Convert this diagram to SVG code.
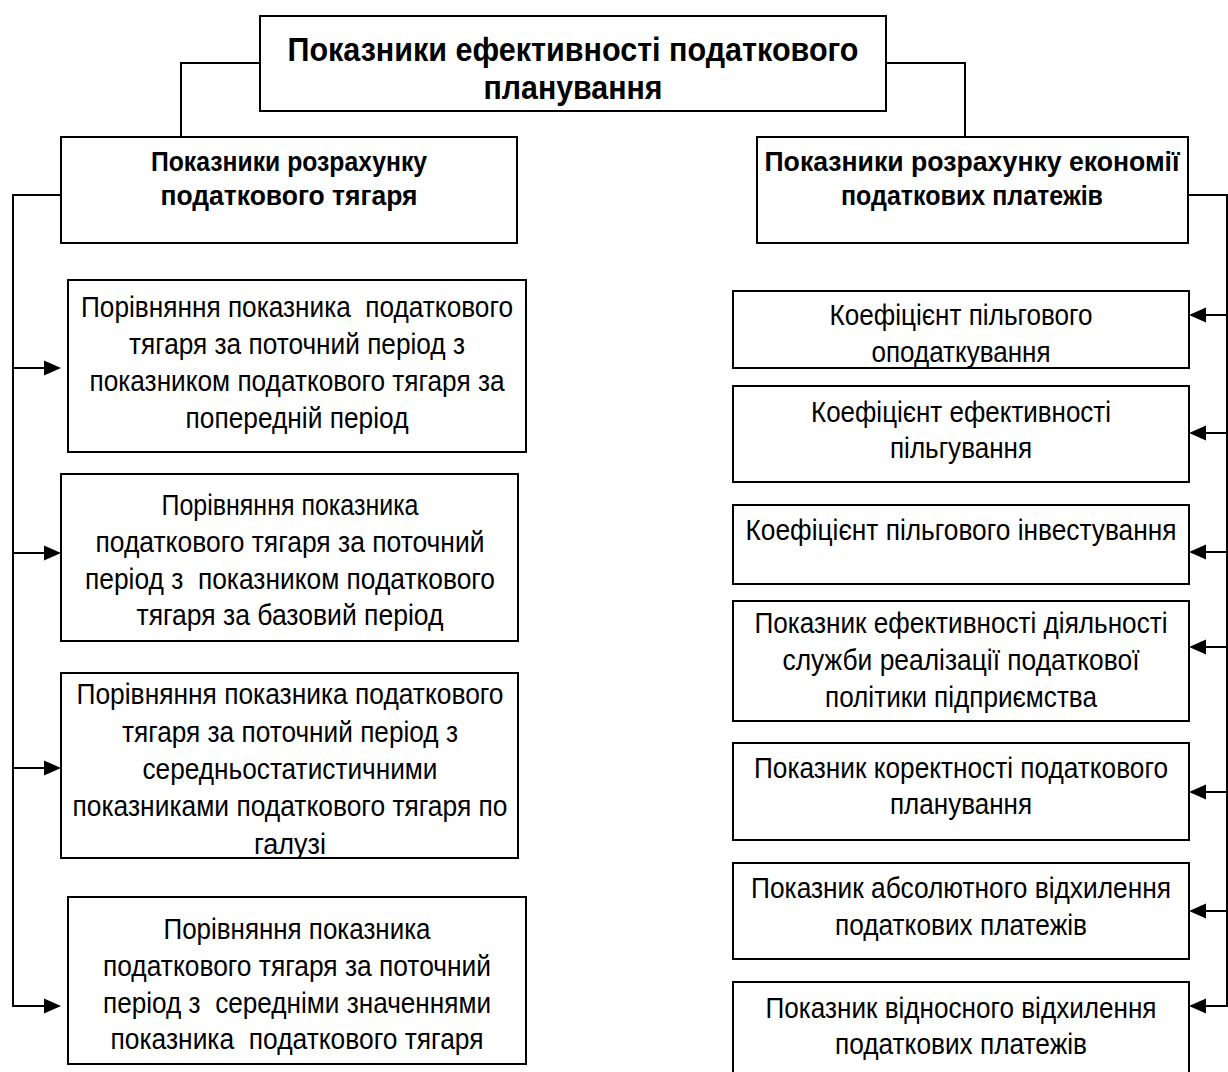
<svg xmlns="http://www.w3.org/2000/svg" xmlns:xlink="http://www.w3.org/1999/xlink" width="1228" height="1072" viewBox="0 0 1228 1072">
<style>
.box{fill:#fff;stroke:#000;stroke-width:2}
.t{font-family:"Liberation Sans",Arial,sans-serif;font-size:29.5px;fill:#000;text-anchor:middle;white-space:pre}
.h{font-family:"Liberation Sans",Arial,sans-serif;font-size:28px;font-weight:bold;fill:#000;text-anchor:middle}
.ti{font-family:"Liberation Sans",Arial,sans-serif;font-size:33px;font-weight:bold;fill:#000;text-anchor:middle}
.ln{fill:none;stroke:#000;stroke-width:2}
.hd{fill:#000;stroke:none}
</style>
<defs>
<path id="ahR" d="M-17,-7.5 L0,0 L-17,7.5 Z"/>
<path id="ahL" d="M17,-7.5 L0,0 L17,7.5 Z"/>
<clipPath id="cL3"><rect x="61" y="673" width="457" height="185"/></clipPath>
<clipPath id="cR1"><rect x="733" y="291" width="456" height="77"/></clipPath>
</defs>
<g id="connectors">
<path class="ln" d="M260,63 H181 V137"/>
<path class="ln" d="M886,63 H965 V137"/>
<path class="ln" d="M61,195 H13 V1007"/>
<path class="ln" d="M1188,195 H1227 V1007"/>
<path class="ln" d="M13,368 H50 M13,553 H50 M13,768 H50 M13,1006 H50"/>
<path class="ln" d="M1227,315 H1200 M1227,433 H1200 M1227,552 H1200 M1227,647 H1200 M1227,792 H1200 M1227,911 H1200 M1227,1006 H1200"/>
<use class="hd" xlink:href="#ahR" href="#ahR" x="61" y="368"/>
<use class="hd" xlink:href="#ahR" href="#ahR" x="61" y="553"/>
<use class="hd" xlink:href="#ahR" href="#ahR" x="61" y="768"/>
<use class="hd" xlink:href="#ahR" href="#ahR" x="61" y="1006"/>
<use class="hd" xlink:href="#ahL" href="#ahL" x="1189" y="315"/>
<use class="hd" xlink:href="#ahL" href="#ahL" x="1189" y="433"/>
<use class="hd" xlink:href="#ahL" href="#ahL" x="1189" y="552"/>
<use class="hd" xlink:href="#ahL" href="#ahL" x="1189" y="647"/>
<use class="hd" xlink:href="#ahL" href="#ahL" x="1189" y="792"/>
<use class="hd" xlink:href="#ahL" href="#ahL" x="1189" y="911"/>
<use class="hd" xlink:href="#ahL" href="#ahL" x="1189" y="1006"/>
</g>
<g id="title">
<rect class="box" x="260" y="16" width="626" height="95"/>
<text class="ti" x="573" y="61" textLength="571" lengthAdjust="spacingAndGlyphs">Показники ефективності податкового</text>
<text class="ti" x="573" y="99" textLength="179" lengthAdjust="spacingAndGlyphs">планування</text>
</g>
<g id="hdrLeft">
<rect class="box" x="61" y="137" width="456" height="106"/>
<text class="h" x="289" y="171" textLength="276" lengthAdjust="spacingAndGlyphs">Показники розрахунку</text>
<text class="h" x="289" y="205" textLength="257" lengthAdjust="spacingAndGlyphs">податкового тягаря</text>
</g>
<g id="hdrRight">
<rect class="box" x="757" y="137" width="431" height="106"/>
<text class="h" x="972" y="171" textLength="415" lengthAdjust="spacingAndGlyphs">Показники розрахунку економії</text>
<text class="h" x="972" y="205" textLength="262" lengthAdjust="spacingAndGlyphs">податкових платежів</text>
</g>
<g id="L1">
<rect class="box" x="68" y="280" width="458" height="172"/>
<text class="t" x="297" y="317" textLength="432" lengthAdjust="spacingAndGlyphs">Порівняння показника  податкового</text>
<text class="t" x="297" y="354" textLength="336" lengthAdjust="spacingAndGlyphs">тягаря за поточний період з</text>
<text class="t" x="297" y="391" textLength="415" lengthAdjust="spacingAndGlyphs">показником податкового тягаря за</text>
<text class="t" x="297" y="428" textLength="223" lengthAdjust="spacingAndGlyphs">попередній період</text>
</g>
<g id="L2">
<rect class="box" x="61" y="474" width="457" height="167"/>
<text class="t" x="290" y="515" textLength="257" lengthAdjust="spacingAndGlyphs">Порівняння показника</text>
<text class="t" x="290" y="552" textLength="389" lengthAdjust="spacingAndGlyphs">податкового тягаря за поточний</text>
<text class="t" x="290" y="589" textLength="410" lengthAdjust="spacingAndGlyphs">період з  показником податкового</text>
<text class="t" x="290" y="625" textLength="307" lengthAdjust="spacingAndGlyphs">тягаря за базовий період</text>
</g>
<g id="L3">
<rect class="box" x="61" y="673" width="457" height="185"/>
<g clip-path="url(#cL3)">
<text class="t" x="290" y="704" textLength="427" lengthAdjust="spacingAndGlyphs">Порівняння показника податкового</text>
<text class="t" x="290" y="742" textLength="336" lengthAdjust="spacingAndGlyphs">тягаря за поточний період з</text>
<text class="t" x="290" y="779" textLength="295" lengthAdjust="spacingAndGlyphs">середньостатистичними</text>
<text class="t" x="290" y="816" textLength="435" lengthAdjust="spacingAndGlyphs">показниками податкового тягаря по</text>
<text class="t" x="290" y="854" textLength="72" lengthAdjust="spacingAndGlyphs">галузі</text>
</g>
</g>
<g id="L4">
<rect class="box" x="68" y="897" width="458" height="167"/>
<text class="t" x="297" y="939" textLength="267" lengthAdjust="spacingAndGlyphs">Порівняння показника</text>
<text class="t" x="297" y="976" textLength="388" lengthAdjust="spacingAndGlyphs">податкового тягаря за поточний</text>
<text class="t" x="297" y="1013" textLength="388" lengthAdjust="spacingAndGlyphs">період з  середніми значеннями</text>
<text class="t" x="297" y="1049" textLength="373" lengthAdjust="spacingAndGlyphs">показника  податкового тягаря</text>
</g>
<g id="R1">
<rect class="box" x="733" y="291" width="456" height="77"/>
<g clip-path="url(#cR1)">
<text class="t" x="961" y="325" textLength="263" lengthAdjust="spacingAndGlyphs">Коефіцієнт пільгового</text>
<text class="t" x="961" y="362" textLength="179" lengthAdjust="spacingAndGlyphs">оподаткування</text>
</g>
</g>
<g id="R2">
<rect class="box" x="733" y="386" width="456" height="96"/>
<text class="t" x="961" y="422" textLength="300" lengthAdjust="spacingAndGlyphs">Коефіцієнт ефективності</text>
<text class="t" x="961" y="458" textLength="142" lengthAdjust="spacingAndGlyphs">пільгування</text>
</g>
<g id="R3">
<rect class="box" x="733" y="505" width="456" height="79"/>
<text class="t" x="961" y="540" textLength="431" lengthAdjust="spacingAndGlyphs">Коефіцієнт пільгового інвестування</text>
</g>
<g id="R4">
<rect class="box" x="733" y="601" width="456" height="120"/>
<text class="t" x="961" y="633" textLength="413" lengthAdjust="spacingAndGlyphs">Показник ефективності діяльності</text>
<text class="t" x="961" y="670" textLength="357" lengthAdjust="spacingAndGlyphs">служби реалізації податкової</text>
<text class="t" x="961" y="707" textLength="272" lengthAdjust="spacingAndGlyphs">політики підприємства</text>
</g>
<g id="R5">
<rect class="box" x="733" y="743" width="456" height="97"/>
<text class="t" x="961" y="778" textLength="414" lengthAdjust="spacingAndGlyphs">Показник коректності податкового</text>
<text class="t" x="961" y="814" textLength="142" lengthAdjust="spacingAndGlyphs">планування</text>
</g>
<g id="R6">
<rect class="box" x="733" y="863" width="456" height="96"/>
<text class="t" x="961" y="898" textLength="420" lengthAdjust="spacingAndGlyphs">Показник абсолютного відхилення</text>
<text class="t" x="961" y="935" textLength="252" lengthAdjust="spacingAndGlyphs">податкових платежів</text>
</g>
<g id="R7">
<rect class="box" x="733" y="982" width="456" height="100"/>
<text class="t" x="961" y="1018" textLength="391" lengthAdjust="spacingAndGlyphs">Показник відносного відхилення</text>
<text class="t" x="961" y="1054" textLength="252" lengthAdjust="spacingAndGlyphs">податкових платежів</text>
</g>
</svg>
